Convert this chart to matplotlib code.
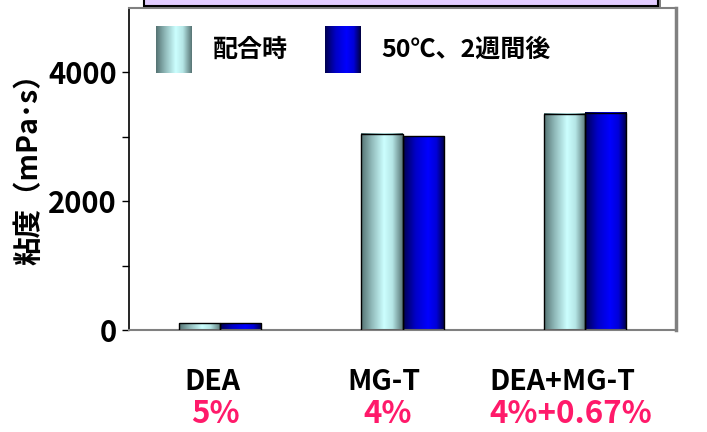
import numpy as np
import matplotlib
matplotlib.use("Agg")
import matplotlib.pyplot as plt
from matplotlib.colors import LinearSegmentedColormap
from matplotlib.patches import Rectangle

plt.rcParams['font.family'] = ['Noto Sans CJK JP', 'DejaVu Sans']
plt.rcParams['font.weight'] = 'bold'

categories = ['DEA', 'MG-T', 'DEA+MG-T']
percents = ['5%', '4%', '4%+0.67%']
series_names = ['配合時', '50℃、2週間後']
initial = [105, 3050, 3360]
after_2w = [105, 3005, 3375]
yticks = [0, 2000, 4000]
ylabel = '粘度（mPa･s）'

cyan_cm = LinearSegmentedColormap.from_list(
    'cyl_cyan', [(0, '#557373'), (0.25, '#8fb8b8'), (0.55, '#ccffff'),
                 (0.75, '#b5e6e6'), (1, '#587575')])
blue_cm = LinearSegmentedColormap.from_list(
    'cyl_blue', [(0, '#000050'), (0.3, '#0000c8'), (0.6, '#0000ff'),
                 (0.8, '#0000d8'), (1, '#000040')])
grad = np.linspace(0, 1, 200).reshape(1, -1)

fig = plt.figure(figsize=(7.07, 4.32), dpi=100)
ax = fig.add_axes([0.1825, 0.2361, 0.7737, 0.7454])

x = np.arange(len(categories))
w = 0.226

for vals, cm, off in [(initial, cyan_cm, -w / 2), (after_2w, blue_cm, w / 2)]:
    bars = ax.bar(x + off, vals, width=w, facecolor='none',
                  edgecolor='black', linewidth=1.0, zorder=3)
    for b in bars:
        ax.imshow(grad, cmap=cm, aspect='auto', zorder=2,
                  extent=[b.get_x(), b.get_x() + b.get_width(), 0, b.get_height()])

ax.set_xlim(-0.5, 2.5)
ax.set_ylim(0, 5000)
ax.set_yticks(yticks)
ax.set_yticklabels([str(v) for v in yticks], fontsize=21, fontweight='bold')
ax.set_yticks([1000, 3000], minor=True)
ax.tick_params(axis='y', which='both', direction='out', length=5, width=1,
               color='black', pad=4)
ax.set_xticks([])

ax.spines['left'].set_color('black')
ax.spines['left'].set_linewidth(1.2)
for s in ['top', 'right', 'bottom']:
    ax.spines[s].set_color('#808080')
    ax.spines[s].set_linewidth(1.5)
ax.spines['right'].set_linewidth(2.5)

ax.set_ylabel(ylabel, fontsize=20.5, fontweight='bold')
ax.yaxis.set_label_coords(-0.157, 0.52)

# category labels sit a little left of the bar pairs in the original
name_shift = [-0.044, -0.104, -0.126]
pct_shift = [-0.027, -0.082, -0.077]
tr = ax.get_xaxis_transform()
for i, (c, p) in enumerate(zip(categories, percents)):
    ax.text(i + name_shift[i], -0.16, c, transform=tr, ha='center', va='center',
            fontsize=20.5, fontweight='bold', color='black')
    ax.text(i + pct_shift[i], -0.262, p, transform=tr, ha='center', va='center',
            fontsize=22.5, fontweight='bold', color='#ff1a6a')

# legend
for left, cm, name, tx in [(0.2207, cyan_cm, series_names[0], 0.301),
                           (0.4597, blue_cm, series_names[1], 0.540)]:
    sw = fig.add_axes([left, 0.831, 0.0509, 0.1088])
    sw.imshow(grad, cmap=cm, aspect='auto')
    sw.axis('off')
    fig.text(tx, 0.884, name, ha='left', va='center', fontsize=18,
             fontweight='bold')

# lavender title box, cut by the top edge
fig.patches.append(Rectangle((0.208, 0.980), 0.727, 0.05, transform=fig.transFigure,
                             facecolor='#808080', edgecolor='none', zorder=0,
                             clip_on=False))
fig.patches.append(Rectangle((0.204, 0.985), 0.727, 0.05, transform=fig.transFigure,
                             facecolor='#e2ccff', edgecolor='black', linewidth=1.5,
                             zorder=1, clip_on=False))

fig.savefig('out.png', dpi=100)
